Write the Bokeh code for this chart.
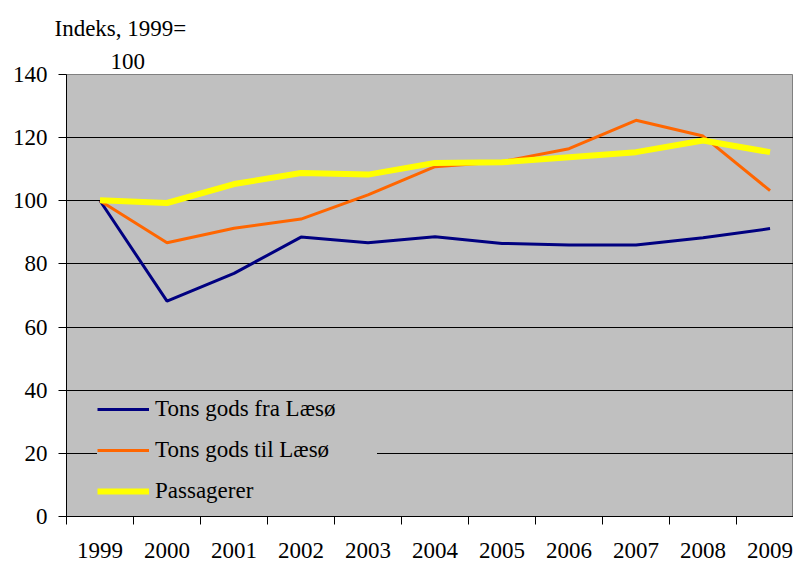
from bokeh.plotting import figure
from bokeh.models import FixedTicker, Range1d, Legend, LegendItem, Title
from bokeh.embed import file_html
from bokeh.resources import INLINE

years = ["1999", "2000", "2001", "2002", "2003", "2004", "2005", "2006", "2007", "2008", "2009"]
fra_laeso = [100, 68.2, 77.0, 88.5, 86.7, 88.6, 86.5, 86.0, 86.0, 88.3, 91.2]
til_laeso = [100, 86.7, 91.3, 94.2, 101.9, 110.8, 112.4, 116.5, 125.5, 120.5, 103.2]
passagerer = [100.2, 99.3, 105.3, 108.8, 108.3, 112.0, 112.2, 113.8, 115.4, 119.1, 115.4]
y_ticks = [0, 20, 40, 60, 80, 100, 120, 140]
series_names = ["Tons gods fra Læsø", "Tons gods til Læsø", "Passagerer"]

FONT = "'Liberation Serif', 'Times New Roman', serif"
FS = "23px"
xs = [i + 0.5 for i in range(len(years))]

p = figure(width=793, height=566, output_backend="svg", toolbar_location=None,
           x_range=Range1d(0, 10.85), y_range=Range1d(0, 140),
           min_border_left=66, min_border_right=0, min_border_top=74, min_border_bottom=50)
p.background_fill_color = "#C0C0C0"
p.border_fill_color = "white"
p.outline_line_color = "#808080"
p.outline_line_width = 1

# titles (two lines)
p.title.text = "Indeks, 1999="
p.title.align = "left"
p.title.offset = -12
p.title.text_font = FONT
p.title.text_font_size = FS
p.title.text_font_style = "normal"
p.title.text_color = "black"
p.title.standoff = 12
p.add_layout(Title(text="100", align="left", offset=44, text_font=FONT, text_color="black",
                   text_font_size=FS, text_font_style="normal", standoff=11), "above")

# grid
p.xgrid.visible = False
p.ygrid.ticker = FixedTicker(ticks=y_ticks)
p.ygrid.grid_line_color = "black"
p.ygrid.grid_line_width = 1

# y axis
p.yaxis.ticker = FixedTicker(ticks=y_ticks)
p.yaxis.major_tick_out = 8
p.yaxis.major_tick_in = 0
p.yaxis.minor_tick_out = 0
p.yaxis.axis_line_color = "black"
p.yaxis.major_label_text_font = FONT
p.yaxis.major_label_text_font_size = FS
p.yaxis.major_label_text_color = "black"
p.yaxis.major_label_standoff = 11

# x axis
p.xaxis.ticker = FixedTicker(ticks=xs, minor_ticks=list(range(0, 12)))
p.xaxis.major_label_overrides = {x: y for x, y in zip(xs, years)}
p.xaxis.major_tick_out = 0
p.xaxis.major_tick_in = 0
p.xaxis.minor_tick_out = 8
p.xaxis.minor_tick_in = 0
p.xaxis.minor_tick_line_color = "black"
p.xaxis.axis_line_color = "black"
p.xaxis.major_label_text_font = FONT
p.xaxis.major_label_text_font_size = FS
p.xaxis.major_label_text_color = "black"
p.xaxis.major_label_standoff = 18

r1 = p.line(xs, fra_laeso, line_color="#000080", line_width=3)
r2 = p.line(xs, til_laeso, line_color="#FF6600", line_width=3)
r3 = p.line(xs, passagerer, line_color="#FFFF00", line_width=6)

legend = Legend(items=[LegendItem(label=series_names[0], renderers=[r1]),
                       LegendItem(label=series_names[1], renderers=[r2]),
                       LegendItem(label=series_names[2], renderers=[r3])],
                location=(31, 10))
legend.background_fill_color = "#C0C0C0"
legend.background_fill_alpha = 1
legend.border_line_color = None
legend.label_text_font = FONT
legend.label_text_font_size = FS
legend.label_text_color = "black"
legend.glyph_width = 52
legend.glyph_height = 30
legend.label_height = 30
legend.label_width = 222
legend.spacing = 11
legend.padding = 8
legend.margin = 0
legend.label_standoff = 6
p.add_layout(legend, "center")

open("out.html", "w").write(file_html(p, INLINE))
